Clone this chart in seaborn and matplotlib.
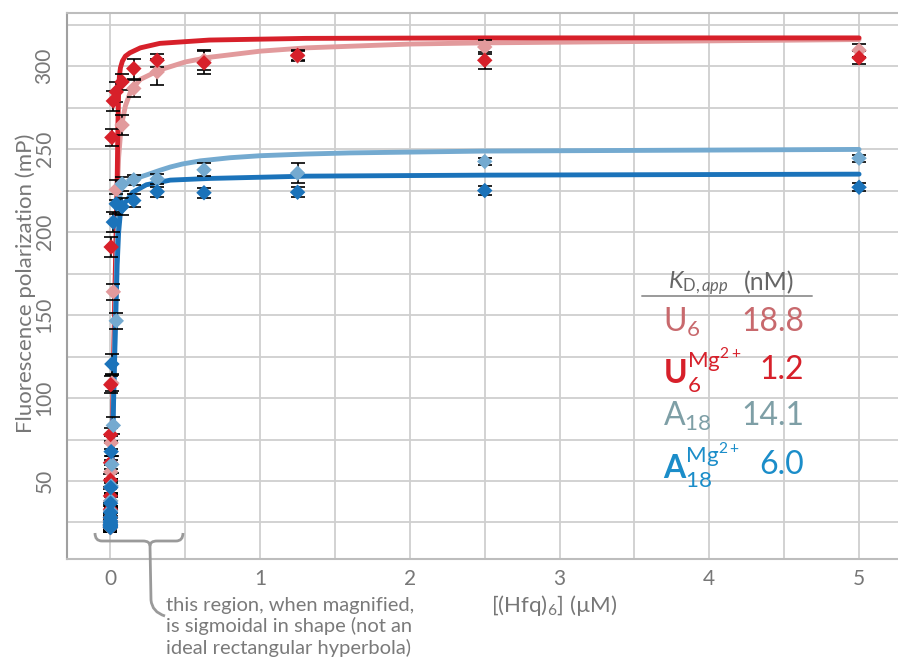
import matplotlib
matplotlib.use("Agg")
import matplotlib.pyplot as plt
import seaborn as sns
import numpy as np
import pandas as pd
from matplotlib.path import Path
from matplotlib.patches import PathPatch
from matplotlib.lines import Line2D

# ---------------- data ----------------
conc = [5, 2.5, 1.25, 0.625, 0.3125, 0.156, 0.078, 0.039, 0.0195,
        0.0098, 0.0049, 0.0024, 0.0012, 0.0006, 0.0003, 0.00015, 0.000076, 0.000038,
        0.000019, 0.0000095, 0.0000048, 0.0000024]

u6_vals = [309.5, 311.5, 306, 303.5, 296.5, 286.5, 264.5, 225.5, 164,
           109, 73, 55.5, 46, 38, 32, 28, 26, 25, 24, 23, 22.5, 22]
u6_err = [4, 4.5, 3, 6, 8, 5, 6, 6, 5, 5, 4, 4, 3, 3, 3, 3, 3, 3, 3, 3, 3, 3]

u6mg_vals = [305, 303.5, 306.5, 302, 303.5, 298.5, 290.5, 284.5, 279,
             257, 191, 108, 78, 61, 50.5, 41, 33, 28, 26, 24, 23, 22]
u6mg_err = [4, 5, 3, 7, 4, 6, 5, 6, 6, 5, 6, 5, 4, 4, 4, 4, 3, 3, 3, 3, 3, 3]

a18_vals = [244.5, 242.5, 235.5, 237.5, 232, 231.5, 229, 146.5, 83.5,
            60, 47, 38, 32, 28, 26, 25, 24, 24, 23, 23, 22, 22]
a18_err = [2, 2, 6, 4, 3, 3, 4, 5, 5, 5, 4, 4, 3, 3, 3, 3, 3, 3, 3, 3, 3, 3]

a18mg_vals = [227, 225, 224, 223.7, 224.3, 219, 215.3, 217, 206,
              120.5, 67.7, 46, 36.6, 31, 28, 26, 25, 24, 23.5, 23, 22.5, 22]
a18mg_err = [2.5, 2.5, 3, 3, 3, 4, 5, 6, 6, 6, 5, 4, 4, 3, 3, 3, 3, 3, 3, 3, 3, 3]

# fitted curves as drawn in the reference (x in uM, y in mP)
u6_fit_x = [0, 0.015, 0.03, 0.045, 0.055, 0.071, 0.1, 0.138, 0.2, 0.327, 0.5, 0.66, 1.0, 1.31, 2.0, 2.5, 5]
u6_fit_y = [20, 90, 160, 222, 245, 263, 276, 285.5, 292, 297.6, 302.5, 305.3, 309, 311, 313.3, 314, 316]

u6mg_fit_x = [0, 0.015, 0.03, 0.045, 0.05, 0.055, 0.06, 0.067, 0.08, 0.1, 0.13, 0.2, 0.33, 0.66, 1.3, 2.5, 5]
u6mg_fit_y = [20, 90, 165, 230, 265, 285, 294, 299, 303, 306, 308, 311, 313.7, 315.7, 316.7, 317, 317]

a18_fit_x = [0, 0.015, 0.03, 0.045, 0.055, 0.07, 0.1, 0.15, 0.2, 0.26, 0.33, 0.4, 0.48, 0.6, 0.8, 1.0, 1.3, 1.6, 2.5, 5]
a18_fit_y = [20, 80, 140, 195, 215, 226, 229, 231.5, 233.2, 235, 237.2, 239.2, 241, 242.9, 244.8, 246, 247, 247.7, 248.8, 249.8]

a18mg_fit_x = [0, 0.015, 0.03, 0.045, 0.055, 0.065, 0.08, 0.1, 0.15, 0.24, 0.4, 0.66, 1.31, 2.5, 5]
a18mg_fit_y = [20, 75, 130, 180, 200, 210, 215, 218, 224, 228.5, 231.3, 232.3, 233.7, 234.3, 234.9]

kd_labels = [r"$\mathregular{U_{6}}$", r"$\mathbf{U}_{\mathregular{6}}^{\mathregular{Mg^{2+}}}$",
             r"$\mathregular{A_{18}}$", r"$\mathbf{A}_{\mathregular{18}}^{\mathregular{Mg^{2+}}}$"]
kd_values = ["18.8", "1.2", "14.1", "6.0"]

x_ticks = [0, 1, 2, 3, 4, 5]
y_ticks = [50, 100, 150, 200, 250, 300]

# ---------------- style ----------------
sns.set_theme(style="white")
plt.rcParams["font.family"] = ["Lato", "DejaVu Sans"]
plt.rcParams["mathtext.fontset"] = "custom"
plt.rcParams["mathtext.rm"] = "Lato"
plt.rcParams["mathtext.it"] = "Lato:italic"
plt.rcParams["mathtext.bf"] = "Lato:bold"

C_U6 = "#E29A9C"
C_U6MG = "#D7202A"
C_A18 = "#74AAD0"
C_A18MG = "#1B73BA"
TXT = "#777777"

W, H = 898, 666
fig = plt.figure(figsize=(W / 100, H / 100), dpi=100)
ax = fig.add_axes([67 / W, 107 / H, 831 / W, 546 / H])

series = [
    (u6_fit_x, u6_fit_y, u6_vals, u6_err, C_U6),
    (u6mg_fit_x, u6mg_fit_y, u6mg_vals, u6mg_err, C_U6MG),
    (a18_fit_x, a18_fit_y, a18_vals, a18_err, C_A18),
    (a18mg_fit_x, a18mg_fit_y, a18mg_vals, a18mg_err, C_A18MG),
]

for fx, fy, v, e, c in series:
    sns.lineplot(x=fx, y=fy, ax=ax, color=c, lw=3.5, sort=False, estimator=None, zorder=2)

for fx, fy, v, e, c in series:
    ax.errorbar(conc, v, yerr=e, fmt="none", ecolor="black", elinewidth=1.2,
                capsize=5, capthick=1.2, zorder=3)
for fx, fy, v, e, c in series:
    sns.scatterplot(x=conc, y=v, ax=ax, marker="D", s=62, color=c,
                    edgecolor="none", linewidth=0, zorder=4)

ax.set_xlim(-0.29, 5.26)
ax.set_ylim(3, 332)
ax.set_xticks(x_ticks)
ax.set_xticklabels([str(t) for t in x_ticks])
ax.set_xticks(np.arange(0.5, 5.3, 1.0), minor=True)
ax.set_yticks(y_ticks)
ax.set_yticklabels([str(t) for t in y_ticks])
ax.set_yticks(np.arange(25, 330, 50), minor=True)

ax.grid(True, which="both", color="#cfcfcf", lw=1.3)
ax.set_axisbelow(True)

ax.tick_params(axis="x", which="both", length=0, labelsize=15, labelcolor=TXT, pad=7)
ax.tick_params(axis="y", which="major", direction="in", length=14, width=1.6,
               color="#8a8a8a", labelsize=15, labelcolor=TXT, pad=9, labelrotation=90)
ax.tick_params(axis="y", which="minor", length=0)
for lab in ax.get_yticklabels():
    lab.set_va("center")

ax.spines["right"].set_visible(False)
ax.spines["left"].set_color("#a0a0a0")
ax.spines["left"].set_linewidth(1.5)
ax.spines["top"].set_color("#bdbdbd")
ax.spines["top"].set_linewidth(1.5)
ax.spines["bottom"].set_color("#bdbdbd")
ax.spines["bottom"].set_linewidth(1.5)

ax.set_xlabel("")
ax.set_ylabel("")

def fx_(px):
    return px / W

def fy_(py):
    return 1 - py / H

fig.text(fx_(26), fy_(283), "Fluorescence polarization (mP)", rotation=90,
         ha="center", va="center", fontsize=16, color=TXT)
fig.text(fx_(554), fy_(606), r"[(Hfq)$\mathregular{_6}$] (µM)", ha="center",
         va="center", fontsize=16, color=TXT)

# annotation text
fig.text(fx_(166), fy_(597), "this region, when magnified,\nis sigmoidal in shape (not an\nideal rectangular hyperbola)",
         ha="left", va="top", fontsize=14.5, color="#7a7a7a", linespacing=1.22)

# brace + leader (in figure pixel coords)
verts = [(95, 533), (95, 541), (102, 541), (102, 541),
         (143, 541), (150, 541), (150, 546)]
codes = [Path.MOVETO, Path.CURVE3, Path.CURVE3, Path.LINETO,
         Path.LINETO, Path.CURVE3, Path.CURVE3]
v2 = [(150, 546), (150, 541), (157, 541), (176, 541), (183, 541), (183, 533)]
c2 = [Path.MOVETO, Path.CURVE3, Path.CURVE3, Path.LINETO, Path.CURVE3, Path.CURVE3]
v3 = [(150, 546), (151, 600), (152, 612), (165, 616)]
c3 = [Path.MOVETO, Path.LINETO, Path.CURVE3, Path.CURVE3]
for vv, cc in [(verts, codes), (v2, c2), (v3, c3)]:
    pts = [(fx_(a), fy_(b)) for a, b in vv]
    fig.patches.append(PathPatch(Path(pts, cc), transform=fig.transFigure,
                                 fill=False, edgecolor="#9a9a9a", lw=2.0))

# KD table
fig.text(fx_(668), fy_(283), r"$\mathit{K}_{\mathregular{D,}\mathit{app}}$", ha="left",
         va="center", fontsize=17, color="#666666")
fig.text(fx_(744), fy_(283), "(nM)", ha="left", va="center", fontsize=18, color="#666666")
fig.lines.append(Line2D([fx_(642), fx_(812)], [fy_(296), fy_(296)],
                        transform=fig.transFigure, color="#9a9a9a", lw=1.4))

label_colors = ["#C8696D", "#D7202A", "#7E9FA6", "#1B8DC9"]
value_colors = ["#C8696D", "#D7202A", "#7E9FA6", "#1B8DC9"]
row_y = [322, 370, 416, 465]
for lab, val, lc, vc, yy in zip(kd_labels, kd_values, label_colors, value_colors, row_y):
    fig.text(fx_(663), fy_(yy), lab, ha="left", va="center", fontsize=23, color=lc)
    fig.text(fx_(804), fy_(yy), val, ha="right", va="center", fontsize=23, color=vc)

fig.savefig("out.png", dpi=100)
